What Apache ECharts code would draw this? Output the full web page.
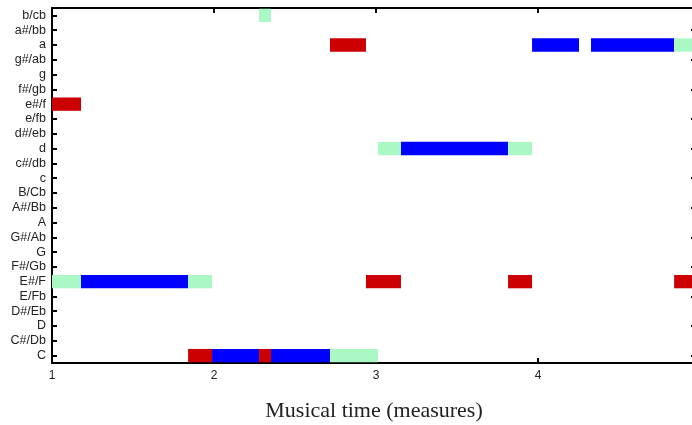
<!DOCTYPE html>
<html>
<head>
<meta charset="utf-8">
<script src="https://cdn.jsdelivr.net/npm/echarts@6/dist/echarts.min.js"></script>
<style>
  html, body { margin: 0; padding: 0; background: #fff; }
  #chart { width: 692px; height: 425px; }
</style>
</head>
<body>
<div id="chart"></div>
<script>
  // pitch rows, bottom to top
  const pitchLabels = ['C', 'C#/Db', 'D', 'D#/Eb', 'E/Fb', 'E#/F', 'F#/Gb', 'G', 'G#/Ab', 'A', 'A#/Bb', 'B/Cb',
    'c', 'c#/db', 'd', 'd#/eb', 'e/fb', 'e#/f', 'f#/gb', 'g', 'g#/ab', 'a', 'a#/bb', 'b/cb']
  const xTicks = [1, 2, 3, 4]

  // [pitch row, start, end] in measures
  const redNotes = [
    [17, 1.0, 1.179],
    [0, 1.84, 1.988],
    [0, 2.278, 2.352],
    [21, 2.716, 2.938],
    [5, 2.938, 3.154],
    [5, 3.815, 3.963],
    [5, 4.84, 5.0]
  ]
  const blueNotes = [
    [5, 1.179, 1.84],
    [0, 1.988, 2.278],
    [0, 2.352, 2.716],
    [14, 3.154, 3.815],
    [21, 3.963, 4.253],
    [21, 4.327, 4.84]
  ]
  const greenNotes = [
    [5, 1.0, 1.179],
    [5, 1.84, 1.988],
    [23, 2.278, 2.352],
    [0, 2.716, 3.012],
    [14, 3.012, 3.154],
    [14, 3.815, 3.963],
    [21, 4.84, 5.0]
  ]

  const renderNote = (params, api) => {
    const row = api.value(0)
    const p0 = api.coord([api.value(1), row])
    const p1 = api.coord([api.value(2), row])
    const h = api.size([0, 1])[1] * 0.9
    const rect = echarts.graphic.clipRectByRect(
      { x: p0[0], y: p0[1] - h / 2, width: p1[0] - p0[0], height: h },
      { x: params.coordSys.x, y: params.coordSys.y, width: params.coordSys.width, height: params.coordSys.height }
    )
    return rect && { type: 'rect', shape: rect, style: { fill: api.visual('color') } }
  }

  const noteSeries = (data, color) => ({
    type: 'custom',
    renderItem: renderNote,
    itemStyle: { color: color },
    encode: { x: [1, 2], y: 0 },
    data: data,
    animation: false
  })

  const axisLine = { show: true, lineStyle: { color: '#000', width: 2 } }
  const tickIn = { show: true, inside: true, length: 5, lineStyle: { color: '#000', width: 2 } }

  const myEchart = echarts.init(document.getElementById('chart'))
  myEchart.setOption({
    animation: false,
    grid: { left: 52, top: 8, width: 644, height: 355, outerBoundsMode: 'none', containLabel: false },
    xAxis: [
      {
        type: 'value',
        min: 1,
        max: 4.975,
        interval: 1,
        axisLine: axisLine,
        axisTick: tickIn,
        splitLine: { show: false },
        axisLabel: {
          margin: 7,
          fontSize: 12,
          color: '#222',
          fontFamily: 'Liberation Sans',
          customValues: xTicks
        },
        name: 'Musical time (measures)',
        nameLocation: 'middle',
        nameGap: 37,
        nameTextStyle: { fontFamily: 'Liberation Serif', fontSize: 22, color: '#222' }
      },
      {
        type: 'value',
        position: 'top',
        min: 1,
        max: 4.975,
        interval: 1,
        axisLine: axisLine,
        axisTick: tickIn,
        axisLabel: { show: false },
        splitLine: { show: false }
      }
    ],
    yAxis: [
      {
        type: 'category',
        data: pitchLabels,
        axisLine: axisLine,
        axisTick: { show: true, inside: true, length: 5, alignWithLabel: true, lineStyle: { color: '#000', width: 2 } },
        axisLabel: { margin: 6, fontSize: 12.5, color: '#222', fontFamily: 'Liberation Sans', interval: 0 },
        splitLine: { show: false }
      },
      {
        type: 'category',
        position: 'right',
        data: pitchLabels,
        axisLine: axisLine,
        axisTick: { show: true, inside: true, length: 5, alignWithLabel: true, lineStyle: { color: '#000', width: 2 } },
        axisLabel: { show: false },
        splitLine: { show: false }
      }
    ],
    series: [
      noteSeries(redNotes, '#cc0000'),
      noteSeries(blueNotes, '#0000ff'),
      noteSeries(greenNotes, '#aaf8c4')
    ]
  })
</script>
</body>
</html>
